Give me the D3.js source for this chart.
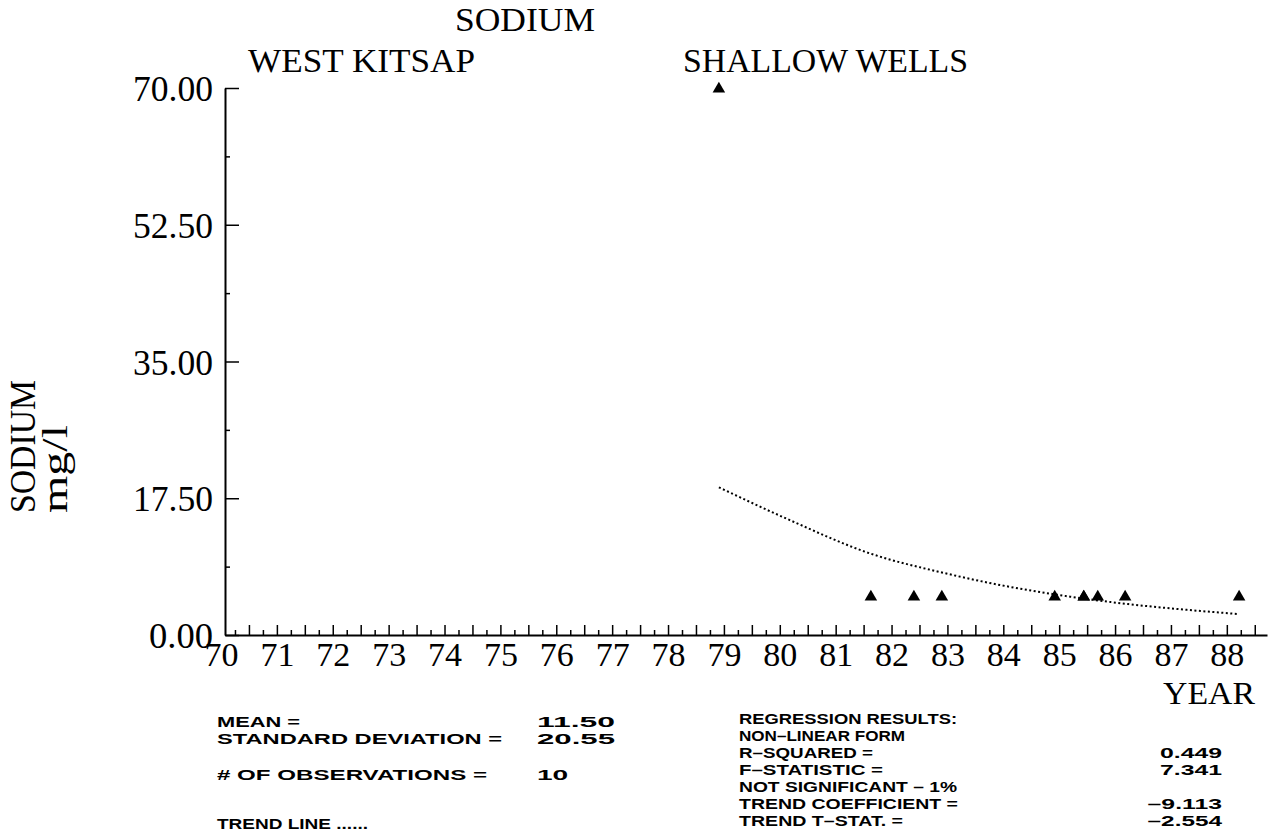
<!DOCTYPE html>
<html><head><meta charset="utf-8">
<script src="https://cdn.jsdelivr.net/npm/d3@7"></script>
<style>body{margin:0;background:#fff}svg{display:block;background:#fff}</style>
</head><body><svg id="c" width="1271" height="838"></svg>
<script>
// ---- data ----
const obsYears  = [78.91, 81.63, 82.40, 82.90, 84.92, 85.44, 85.44, 85.69, 86.18, 88.22];
const obsValues = [70, 5, 5, 5, 5, 5, 5, 5, 5, 5];
const trendYears  = [78.91, 80.18, 81.63, 82.90, 83.94, 84.92, 86.18, 87.16, 88.18];
const trendValues = [18.9, 14.7, 10.4, 8.0, 6.4, 5.2, 4.0, 3.3, 2.7];
const yTickValues = [0, 17.5, 35, 52.5, 70];
const yTickLabels = ["0.00", "17.50", "35.00", "52.50", "70.00"];
const xTickYears  = [70,71,72,73,74,75,76,77,78,79,80,81,82,83,84,85,86,87,88];
const xTickLabels = ["70","71","72","73","74","75","76","77","78","79","80","81","82","83","84","85","86","87","88"];
const titleText = "SODIUM";
const subtitleLeft = "WEST KITSAP";
const subtitleRight = "SHALLOW WELLS";
const yTitle = ["SODIUM", "mg/l"];
const xTitle = "YEAR";
const statLabels = ["MEAN =", "STANDARD DEVIATION =", "# OF OBSERVATIONS =", "TREND LINE ......"];
const statValues = ["11.50", "20.55", "10"];
const regLabels = ["REGRESSION RESULTS:", "NON\u2013LINEAR FORM", "R\u2013SQUARED =", "F\u2013STATISTIC =", "NOT SIGNIFICANT \u2013 1%", "TREND COEFFICIENT =", "TREND T\u2013STAT. ="];
const regValues = ["", "", "0.449", "7.341", "", "\u20139.113", "\u20132.554"];

// ---- layout ----
const svg = d3.select("#c");
const x = d3.scaleLinear().domain([70.0716, 88.719]).range([225, 1267]);
const y = d3.scaleLinear().domain([0, 70]).range([635, 88]);
const serif = "'Liberation Serif', 'DejaVu Serif', serif";
const sans = "'Liberation Sans', Arial, sans-serif";

function txt(t, px, py, size, len, anchor, family, weight) {
  const e = svg.append("text").attr("x", px).attr("y", py)
    .attr("font-family", family || serif).attr("font-size", size)
    .attr("text-anchor", anchor || "start").attr("fill", "#000").text(t);
  if (weight) e.attr("font-weight", weight);
  if (len) e.attr("textLength", len).attr("lengthAdjust", "spacingAndGlyphs");
  return e;
}

// titles
txt(titleText, 455, 31, 34, 140);
txt(subtitleLeft, 248, 72, 34, 227);
txt(subtitleRight, 683, 72, 34, 285);

// Y axis
const yMajor = d3.axisLeft(y).tickValues(yTickValues).tickSizeInner(-14).tickSizeOuter(0)
  .tickPadding(12).tickFormat((d, i) => yTickLabels[i]);
const gy = svg.append("g").attr("transform", "translate(225,0)").call(yMajor);
gy.select(".domain").attr("stroke", "#000").attr("stroke-width", 2);
gy.selectAll(".tick line").attr("stroke", "#000").attr("stroke-width", 1.5);
gy.selectAll(".tick text").attr("font-family", serif).attr("font-size", 35).attr("fill", "#000")
  .attr("textLength", (d, i) => yTickLabels[i].length * 16).attr("lengthAdjust", "spacingAndGlyphs")
  .attr("dy", "0.36em");
const yMinorVals = d3.range(8.75, 70, 17.5);
const gy2 = svg.append("g").attr("transform", "translate(225,0)")
  .call(d3.axisLeft(y).tickValues(yMinorVals).tickSizeInner(-5).tickSizeOuter(0).tickFormat(""));
gy2.select(".domain").remove();
gy2.selectAll(".tick line").attr("stroke", "#000").attr("stroke-width", 1.5);

// X axis
const halfYears = d3.range(70.5, 88.7, 0.5);
const quarterYears = d3.range(70.25, 88.7, 0.5);
const gx = svg.append("g").attr("transform", "translate(0,635)")
  .call(d3.axisBottom(x).tickValues(halfYears).tickSizeInner(-10).tickSizeOuter(0).tickFormat(""));
gx.select(".domain").attr("stroke", "#000").attr("stroke-width", 2);
gx.selectAll(".tick line").attr("stroke", "#000").attr("stroke-width", 1.5);
const gx2 = svg.append("g").attr("transform", "translate(0,635)")
  .call(d3.axisBottom(x).tickValues(quarterYears).tickSizeInner(-5).tickSizeOuter(0).tickFormat(""));
gx2.select(".domain").remove();
gx2.selectAll(".tick line").attr("stroke", "#000").attr("stroke-width", 1.5);
const gx3 = svg.append("g").attr("transform", "translate(0,635)")
  .call(d3.axisBottom(x).tickValues(xTickYears).tickSize(0).tickPadding(8)
    .tickFormat((d, i) => xTickLabels[i]));
gx3.select(".domain").remove();
gx3.selectAll(".tick text").attr("font-family", serif).attr("font-size", 33).attr("fill", "#000")
  .attr("textLength", 34).attr("lengthAdjust", "spacingAndGlyphs");

txt(xTitle, 1209, 704, 32, 92, "middle");

// Y title (rotated)
svg.append("text").attr("transform", "translate(35,513) rotate(-90)")
  .attr("font-family", serif).attr("font-size", 36).attr("fill", "#000")
  .attr("textLength", 133).attr("lengthAdjust", "spacingAndGlyphs").text(yTitle[0]);
svg.append("text").attr("transform", "translate(67,513) rotate(-90)")
  .attr("font-family", serif).attr("font-size", 36).attr("fill", "#000")
  .attr("textLength", 88).attr("lengthAdjust", "spacingAndGlyphs").text(yTitle[1]);

// trend line
const line = d3.line().x(d => x(d[0])).y(d => y(d[1])).curve(d3.curveMonotoneX);
svg.append("path").datum(trendYears.map((t, i) => [t, trendValues[i]]))
  .attr("d", line).attr("fill", "none").attr("stroke", "#000")
  .attr("stroke-width", 2).attr("stroke-dasharray", "2,2.5");

// points
svg.selectAll("path.pt").data(obsYears.map((t, i) => [t, obsValues[i]])).enter()
  .append("path").attr("class", "pt")
  .attr("d", d3.symbol(d3.symbolTriangle).size(68))
  .attr("transform", d => `translate(${x(d[0])},${y(d[1]) + 1})`)
  .attr("fill", "#000");

// stats left
const statY = [727, 744, 780, 829];
const statLen = [83, 285, 270, 151];
statLabels.forEach((s, i) => txt(s, 217, statY[i], 15, statLen[i], "start", sans, "bold"));
statValues.forEach((s, i) => txt(s, 537, statY[i], 15, s.length * 15.6, "start", sans, "bold"));

// regression right
const regY = [724, 741, 758, 775, 792, 809, 826];
const regLen = [218, 166, 134, 144, 218, 219, 164];
regLabels.forEach((s, i) => txt(s, 739, regY[i], 15, regLen[i], "start", sans, "bold"));
regValues.forEach((s, i) => { if (s) txt(s, 1222, regY[i], 15, s.length * 12.4, "end", sans, "bold"); });
</script></body></html>
